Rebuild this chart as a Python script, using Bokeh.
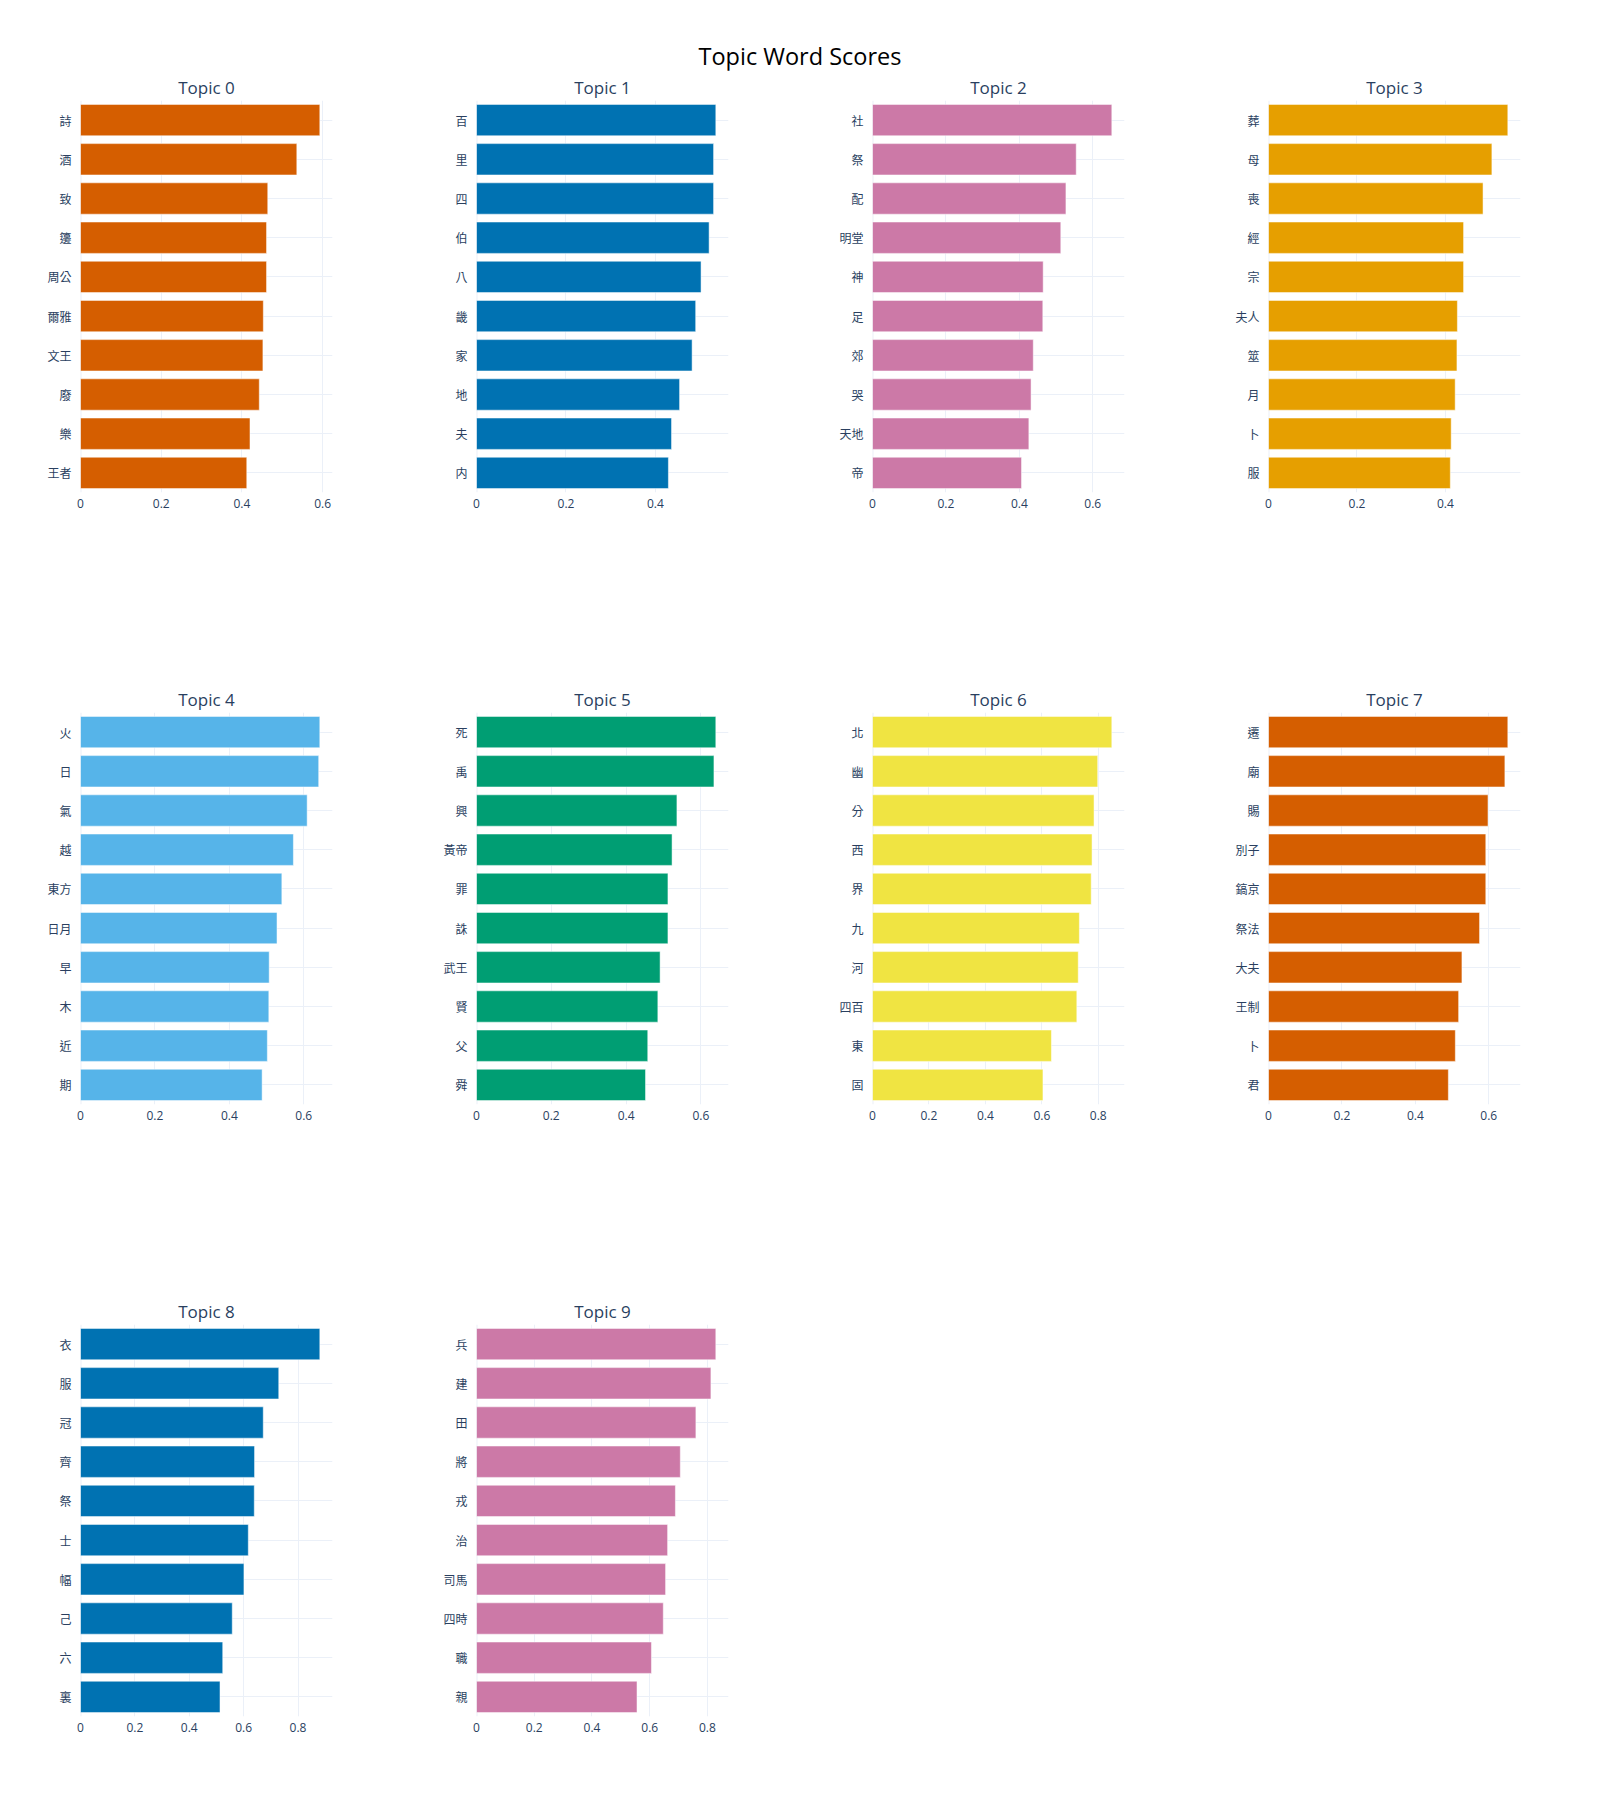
from bokeh.plotting import figure
from bokeh.models import Range1d, FactorRange, Span, Div, FixedTicker, NumeralTickFormatter
from bokeh.layouts import column, row
from bokeh.embed import file_html
from bokeh.resources import INLINE

# ---- data (top to bottom as shown) ----
topic_names = ["Topic 0", "Topic 1", "Topic 2", "Topic 3", "Topic 4",
               "Topic 5", "Topic 6", "Topic 7", "Topic 8", "Topic 9"]

topic0_words = ["詩", "酒", "致", "籩", "周公", "爾雅", "文王", "廢", "樂", "王者"]
topic0_scores = [0.593, 0.536, 0.464, 0.461, 0.461, 0.453, 0.452, 0.443, 0.420, 0.412]

topic1_words = ["百", "里", "四", "伯", "八", "畿", "家", "地", "夫", "内"]
topic1_scores = [0.535, 0.530, 0.530, 0.520, 0.502, 0.490, 0.482, 0.454, 0.436, 0.429]

topic2_words = ["社", "祭", "配", "明堂", "神", "足", "郊", "哭", "天地", "帝"]
topic2_scores = [0.652, 0.555, 0.527, 0.513, 0.465, 0.464, 0.438, 0.432, 0.426, 0.406]

topic3_words = ["葬", "母", "喪", "經", "宗", "夫人", "筮", "月", "卜", "服"]
topic3_scores = [0.541, 0.505, 0.485, 0.441, 0.441, 0.427, 0.426, 0.422, 0.413, 0.411]

topic4_words = ["火", "日", "氣", "越", "東方", "日月", "早", "木", "近", "期"]
topic4_scores = [0.643, 0.640, 0.609, 0.572, 0.541, 0.528, 0.507, 0.506, 0.502, 0.488]

topic5_words = ["死", "禹", "興", "黃帝", "罪", "誅", "武王", "賢", "父", "舜"]
topic5_scores = [0.640, 0.635, 0.536, 0.523, 0.512, 0.512, 0.491, 0.485, 0.458, 0.452]

topic6_words = ["北", "幽", "分", "西", "界", "九", "河", "四百", "東", "固"]
topic6_scores = [0.848, 0.798, 0.785, 0.778, 0.775, 0.733, 0.729, 0.724, 0.634, 0.604]

topic7_words = ["遷", "廟", "賜", "別子", "鎬京", "祭法", "大夫", "王制", "卜", "君"]
topic7_scores = [0.652, 0.644, 0.598, 0.592, 0.592, 0.575, 0.527, 0.518, 0.509, 0.490]

topic8_words = ["衣", "服", "冠", "齊", "祭", "士", "幅", "己", "六", "裏"]
topic8_scores = [0.880, 0.729, 0.672, 0.640, 0.639, 0.617, 0.601, 0.558, 0.523, 0.513]

topic9_words = ["兵", "建", "田", "將", "戎", "治", "司馬", "四時", "職", "親"]
topic9_scores = [0.829, 0.812, 0.760, 0.706, 0.689, 0.662, 0.655, 0.647, 0.606, 0.556]

topic_colors = ["#D55E00", "#0072B2", "#CC79A7", "#E69F00", "#56B4E9",
                "#009E73", "#F0E442", "#D55E00", "#0072B2", "#CC79A7"]

x_ticks = [0, 0.2, 0.4, 0.6, 0.8]

all_words = [topic0_words, topic1_words, topic2_words, topic3_words, topic4_words,
             topic5_words, topic6_words, topic7_words, topic8_words, topic9_words]
all_scores = [topic0_scores, topic1_scores, topic2_scores, topic3_scores, topic4_scores,
              topic5_scores, topic6_scores, topic7_scores, topic8_scores, topic9_scores]

TEXT = "#2a3f5f"
GRID = "#EBF0F8"


def make_panel(i, height, top, bottom):
    words = all_words[i]
    scores = all_scores[i]
    factors = list(reversed(words))
    p = figure(width=396, height=height, output_backend="svg", toolbar_location=None,
               y_range=FactorRange(factors=factors),
               x_range=Range1d(0, max(scores) * 1.053),
               min_border_left=80, min_border_right=64,
               min_border_top=top, min_border_bottom=bottom,
               title=topic_names[i])
    p.title.align = "center"
    p.title.text_font = "Open Sans"
    p.title.text_font_size = "17px"
    p.title.text_font_style = "normal"
    p.title.text_color = TEXT
    p.title.standoff = 4
    p.outline_line_color = None
    p.background_fill_color = "white"
    p.border_fill_color = "white"

    zl = Span(location=0, dimension="height", line_color=GRID, line_width=2, level="underlay")
    p.add_layout(zl)

    p.hbar(y=words, right=scores, left=0, height=0.8,
           fill_color=topic_colors[i], line_color="white", line_width=0.5)

    p.xaxis.ticker = FixedTicker(ticks=x_ticks)
    p.xaxis.formatter = NumeralTickFormatter(format="0.[0]")
    for ax in (p.xaxis[0], p.yaxis[0]):
        ax.axis_line_color = None
        ax.major_tick_line_color = None
        ax.minor_tick_line_color = None
        ax.major_tick_out = 0
        ax.major_tick_in = 0
        ax.major_label_text_color = TEXT
        ax.major_label_text_font_size = "12px"
    p.xaxis.major_label_text_font = "Open Sans"
    p.xaxis.major_label_standoff = 6
    p.yaxis.major_label_text_font = "Noto Sans CJK TC"
    p.yaxis.major_label_standoff = 9
    p.xgrid.grid_line_color = GRID
    p.ygrid.grid_line_color = GRID
    return p


title_div = Div(text="Topic Word Scores", width=1600, height=60,
                styles={"width": "1600px", "text-align": "center", "font-family": "Open Sans",
                        "font-size": "23.5px", "color": "#000000", "padding-top": "36px",
                        "padding-right": "10px",
                        "line-height": "30px", "box-sizing": "border-box"})

row0 = row(*[make_panel(i, 542, 30, 120) for i in range(0, 4)])
row1 = row(*[make_panel(i, 612, 100, 120) for i in range(4, 8)])
row2 = row(*[make_panel(i, 532, 100, 40) for i in range(8, 10)])

layout = column(title_div, row0, row1, row2)

open("out.html", "w").write(file_html(layout, INLINE))
